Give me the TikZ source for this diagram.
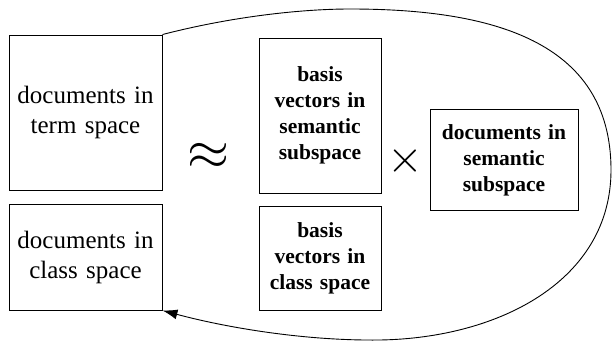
\documentclass[tikz,border=0pt]{standalone}
\usepackage{graphicx}
\usepackage{fontspec}
\setmainfont{Liberation Serif}
\usetikzlibrary{arrows.meta}
\begin{document}
\begin{tikzpicture}[x=1pt,y=-1pt,
  box/.style={draw,line width=0.9pt,inner sep=0pt,align=center},
  regtext/.style={font=\fontsize{25}{30}\selectfont},
  boldtext/.style={font=\fontsize{21.5}{26}\selectfont\bfseries},
  loop/.style={line width=0.9pt,-{Latex[length=15pt,width=10pt]}}]
\useasboundingbox (0,0) rectangle (613,340);
\node[box,regtext,minimum width=153pt,minimum height=155pt,text width=150pt] (A) at (85.5,112.5) {documents in\\term space};
\node[box,regtext,minimum width=153pt,minimum height=106pt,text width=150pt] (B) at (85.5,257) {documents in\\class space};
\node[box,boldtext,minimum width=122pt,minimum height=155pt,text width=120pt] (C) at (320,115.5) {basis\\vectors in\\semantic\\subspace};
\node[box,boldtext,minimum width=122pt,minimum height=104pt,text width=120pt] (D) at (320,258) {basis\\vectors in\\class space};
\node[box,boldtext,minimum width=148pt,minimum height=101pt,text width=146pt] (E) at (504,160) {documents in\\semantic\\subspace};
\node[inner sep=0pt] (approx) at (208,156) {\scalebox{5.4}{$\approx$}};
\node[inner sep=0pt] (times) at (405,161) {\scalebox{4.6}{$\times$}};
\coordinate (top) at (350,9);
\coordinate (right) at (611,170);
\coordinate (bottom) at (380,340);
\draw[loop] (A.north east) .. controls (230,17) and (300,9) .. (top)
  .. controls (490,9) and (611,40) .. (right)
  .. controls (611,280) and (500,338) .. (bottom)
  .. controls (300,341) and (220,326) .. (B.south east);
\end{tikzpicture}
\end{document}
